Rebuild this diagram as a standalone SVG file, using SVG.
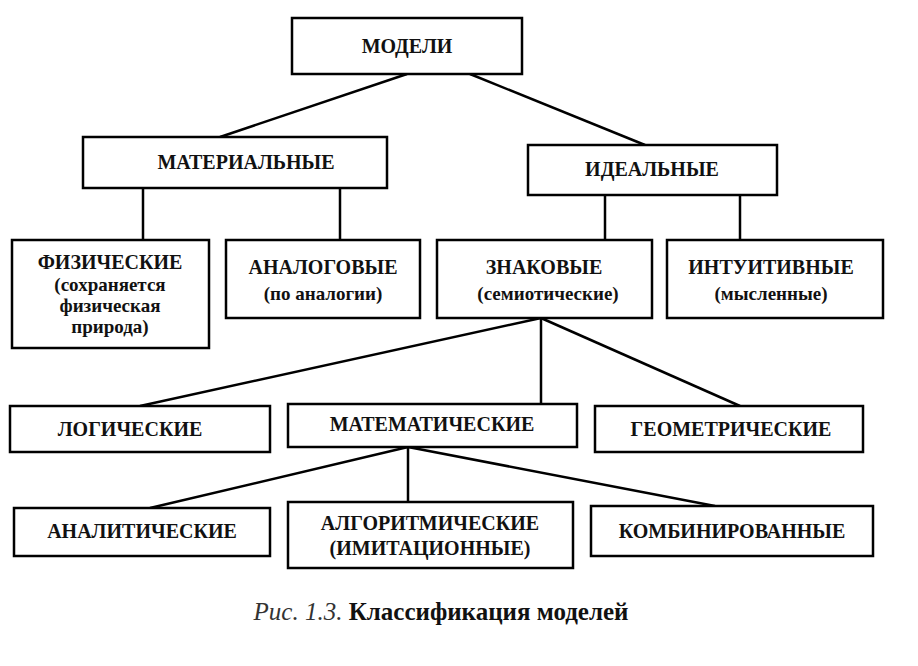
<svg xmlns="http://www.w3.org/2000/svg" width="918" height="666" viewBox="0 0 918 666">
<style>
rect{fill:#fff;stroke:#000;stroke-width:2.5}
line{stroke:#000;stroke-width:2.5}
text{font-family:"Liberation Serif",serif;font-weight:bold;font-size:20px;text-anchor:middle;fill:#111}
.s{font-size:19px}
</style>
<rect x="0" y="0" width="918" height="666" style="stroke:none"/>
<g id="connectors">
<line x1="407" y1="74" x2="220" y2="137"/>
<line x1="470" y1="74" x2="645" y2="145"/>
<line x1="143" y1="188" x2="143" y2="240"/>
<line x1="340" y1="188" x2="340" y2="240"/>
<line x1="605" y1="195" x2="605" y2="240"/>
<line x1="740" y1="195" x2="740" y2="240"/>
<line x1="541" y1="318" x2="140" y2="406"/>
<line x1="541" y1="318" x2="541" y2="404"/>
<line x1="541" y1="318" x2="740" y2="406"/>
<line x1="408" y1="447" x2="150" y2="508"/>
<line x1="408" y1="447" x2="408" y2="502"/>
<line x1="408" y1="447" x2="715" y2="506"/>
</g>
<g id="n1"><rect x="292" y="18" width="230" height="56"/><text x="407" y="53">МОДЕЛИ</text></g>
<g id="n2"><rect x="83" y="137" width="304" height="51"/><text x="246" y="169">МАТЕРИАЛЬНЫЕ</text></g>
<g id="n3"><rect x="528" y="145" width="249" height="50"/><text x="652" y="176">ИДЕАЛЬНЫЕ</text></g>
<g id="n4"><rect x="12" y="240" width="197" height="108"/><text x="110" y="269">ФИЗИЧЕСКИЕ</text><text class="s" x="110" y="291">(сохраняется</text><text class="s" x="110" y="312">физическая</text><text class="s" x="110" y="333">природа)</text></g>
<g id="n5"><rect x="226" y="240" width="194" height="78"/><text x="323" y="274">АНАЛОГОВЫЕ</text><text class="s" x="323" y="300">(по аналогии)</text></g>
<g id="n6"><rect x="437" y="240" width="215" height="78"/><text x="544" y="274">ЗНАКОВЫЕ</text><text class="s" x="548" y="300">(семиотические)</text></g>
<g id="n7"><rect x="667" y="240" width="216" height="78"/><text x="771" y="274">ИНТУИТИВНЫЕ</text><text class="s" x="771" y="300">(мысленные)</text></g>
<g id="n8"><rect x="10" y="406" width="260" height="46"/><text x="130" y="436">ЛОГИЧЕСКИЕ</text></g>
<g id="n9"><rect x="288" y="404" width="289" height="43"/><text x="432" y="431">МАТЕМАТИЧЕСКИЕ</text></g>
<g id="n10"><rect x="595" y="406" width="268" height="46"/><text x="731" y="436">ГЕОМЕТРИЧЕСКИЕ</text></g>
<g id="n11"><rect x="14" y="508" width="256" height="48"/><text x="142" y="538">АНАЛИТИЧЕСКИЕ</text></g>
<g id="n12"><rect x="288" y="502" width="285" height="66"/><text x="430" y="530">АЛГОРИТМИЧЕСКИЕ</text><text x="430" y="555">(ИМИТАЦИОННЫЕ)</text></g>
<g id="n13"><rect x="591" y="506" width="282" height="50"/><text x="732" y="538">КОМБИНИРОВАННЫЕ</text></g>
<text x="441" y="620" style="font-size:25px;font-weight:normal"><tspan font-style="italic" fill="#333">Рис. 1.3.</tspan> <tspan font-weight="bold">Классификация моделей</tspan></text>
</svg>
